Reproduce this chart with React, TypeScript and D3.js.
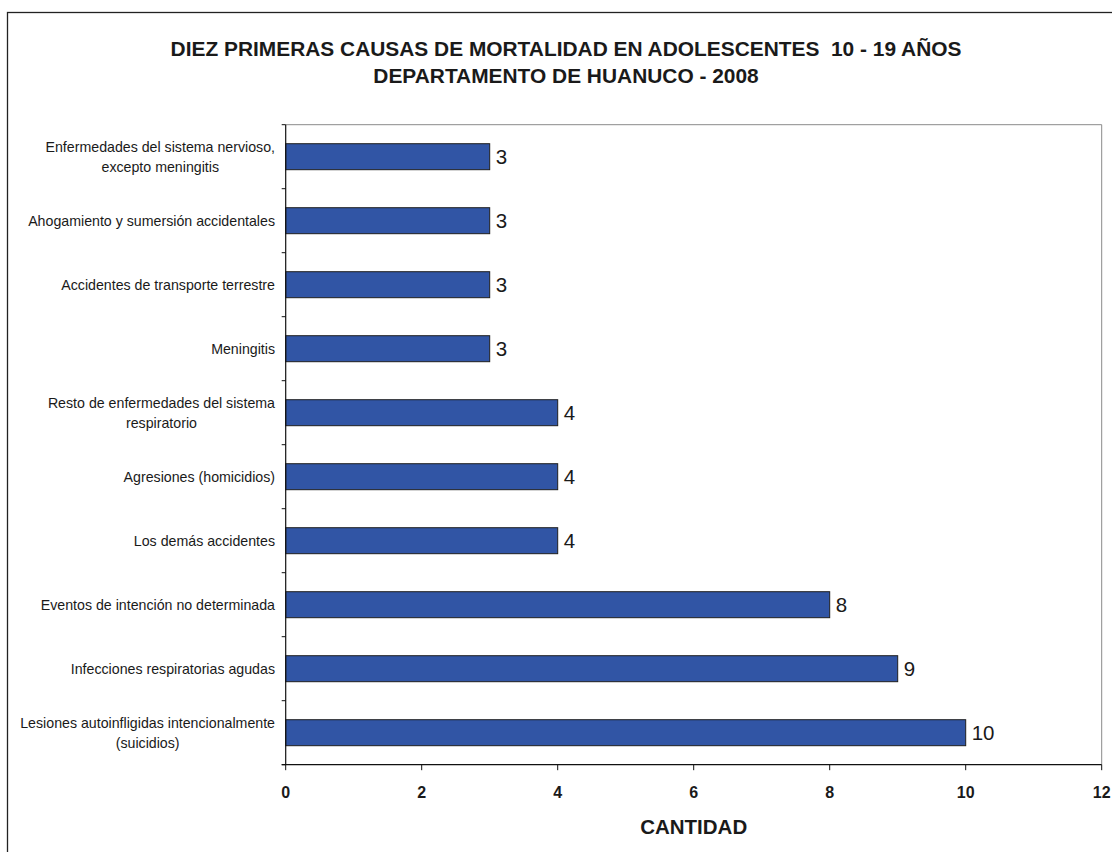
import React, { useEffect, useRef } from "react";
import * as d3 from "d3";

const titleLines = [
  "DIEZ PRIMERAS CAUSAS DE MORTALIDAD EN ADOLESCENTES  10 - 19 AÑOS",
  "DEPARTAMENTO DE HUANUCO - 2008",
];
const categoryLines: string[][] = [
  ["Enfermedades del sistema nervioso,", "excepto meningitis"],
  ["Ahogamiento y sumersión accidentales"],
  ["Accidentes de transporte terrestre"],
  ["Meningitis"],
  ["Resto de enfermedades del sistema", "respiratorio"],
  ["Agresiones (homicidios)"],
  ["Los demás accidentes"],
  ["Eventos de intención no determinada"],
  ["Infecciones respiratorias agudas"],
  ["Lesiones autoinfligidas intencionalmente", "(suicidios)"],
];
const values = [3, 3, 3, 3, 4, 4, 4, 8, 9, 10];
const xTicks = [0, 2, 4, 6, 8, 10, 12];
const xAxisTitle = "CANTIDAD";

const W = 1112;
const H = 852;
const FONT = "'Liberation Sans', Arial, sans-serif";

export default function App() {
  const ref = useRef<SVGSVGElement>(null);
  useEffect(() => {
    const svg = d3.select(ref.current);
    svg.selectAll("*").remove();
    const left = 285.7, right = 1101.7, top = 124.7, bottom = 764.7;
    const keys = categoryLines.map((_, i) => String(i));
    const x = d3.scaleLinear().domain([0, 12]).range([left, right]);
    const y = d3.scaleBand<string>().domain(keys).range([top, bottom]).paddingInner(0.594).paddingOuter(0.297);
    const step = y.step();

    svg.append("rect").attr("width", W).attr("height", H).attr("fill", "#fff");
    svg.append("rect").attr("x", 7.5).attr("y", 12.5).attr("width", 1300).attr("height", 1000)
      .attr("fill", "none").attr("stroke", "#222").attr("stroke-width", 1.3);

    // Title
    titleLines.forEach((t, i) => {
      svg.append("text").attr("x", 566).attr("y", 55.5 + i * 27.5).attr("text-anchor", "middle")
        .attr("font-family", FONT).attr("font-weight", "bold").attr("font-size", 20.9)
        .attr("fill", "#1a1a1a").style("white-space", "pre").text(t);
    });

    // plot border top/right
    svg.append("line").attr("x1", left).attr("x2", right).attr("y1", top).attr("y2", top)
      .attr("stroke", "#8a8a8a").attr("stroke-width", 1);
    svg.append("line").attr("x1", right).attr("x2", right).attr("y1", top).attr("y2", bottom)
      .attr("stroke", "#8a8a8a").attr("stroke-width", 1);

    // bars
    const g = svg.append("g");
    g.selectAll("rect.bar").data(values).join("rect").attr("class", "bar")
      .attr("x", x(0)).attr("y", (_, i) => y(keys[i])!)
      .attr("width", (d) => x(d) - x(0)).attr("height", y.bandwidth())
      .attr("fill", "#3155A5").attr("stroke", "#1e1e1e").attr("stroke-width", 1);

    // value labels
    g.selectAll("text.val").data(values).join("text").attr("class", "val")
      .attr("x", (d) => x(d) + 6).attr("y", (_, i) => y(keys[i])! + y.bandwidth() / 2 + 7.3)
      .attr("font-family", FONT).attr("font-size", 20.5).attr("fill", "#1a1a1a")
      .text((d) => String(d));

    // axes lines
    svg.append("line").attr("x1", left).attr("x2", left).attr("y1", top).attr("y2", bottom)
      .attr("stroke", "#111").attr("stroke-width", 1.2);
    svg.append("line").attr("x1", left - 4).attr("x2", right).attr("y1", bottom).attr("y2", bottom)
      .attr("stroke", "#111").attr("stroke-width", 1.2);

    // y ticks at band boundaries
    d3.range(keys.length + 1).forEach((i) => {
      const yy = top + i * step;
      svg.append("line").attr("x1", left - 4).attr("x2", left).attr("y1", yy).attr("y2", yy)
        .attr("stroke", "#111").attr("stroke-width", 1);
    });

    // x ticks
    xTicks.forEach((t) => {
      svg.append("line").attr("x1", x(t)).attr("x2", x(t)).attr("y1", bottom).attr("y2", bottom + 5.5)
        .attr("stroke", "#111").attr("stroke-width", 1);
      svg.append("text").attr("x", x(t)).attr("y", 797.8).attr("text-anchor", "middle")
        .attr("font-family", FONT).attr("font-weight", "bold").attr("font-size", 16)
        .attr("fill", "#1a1a1a").text(String(t));
    });

    // category labels
    const labelRight = 275;
    categoryLines.forEach((lines, i) => {
      const cy = y(keys[i])! + y.bandwidth() / 2;
      const grp = svg.append("g");
      const texts = lines.map((ln) =>
        grp.append("text").attr("font-family", FONT).attr("font-size", 14.2).attr("fill", "#1a1a1a")
          .attr("text-anchor", "middle").text(ln)
      );
      const widths = texts.map((t) => (t.node() as SVGTextElement).getComputedTextLength());
      const maxW = Math.max(...widths);
      const cx = labelRight - maxW / 2;
      const n = lines.length;
      texts.forEach((t, j) => {
        const ly = cy + (j - (n - 1) / 2) * 20 + 5;
        t.attr("x", cx).attr("y", ly);
      });
    });

    // x axis title
    svg.append("text").attr("x", (left + right) / 2).attr("y", 833.8).attr("text-anchor", "middle")
      .attr("font-family", FONT).attr("font-weight", "bold").attr("font-size", 20.5)
      .attr("fill", "#1a1a1a").text(xAxisTitle);
  }, []);

  return (
    <svg ref={ref} width={W} height={H} style={{ position: "absolute", left: 0, top: 0 }} />
  );
}
